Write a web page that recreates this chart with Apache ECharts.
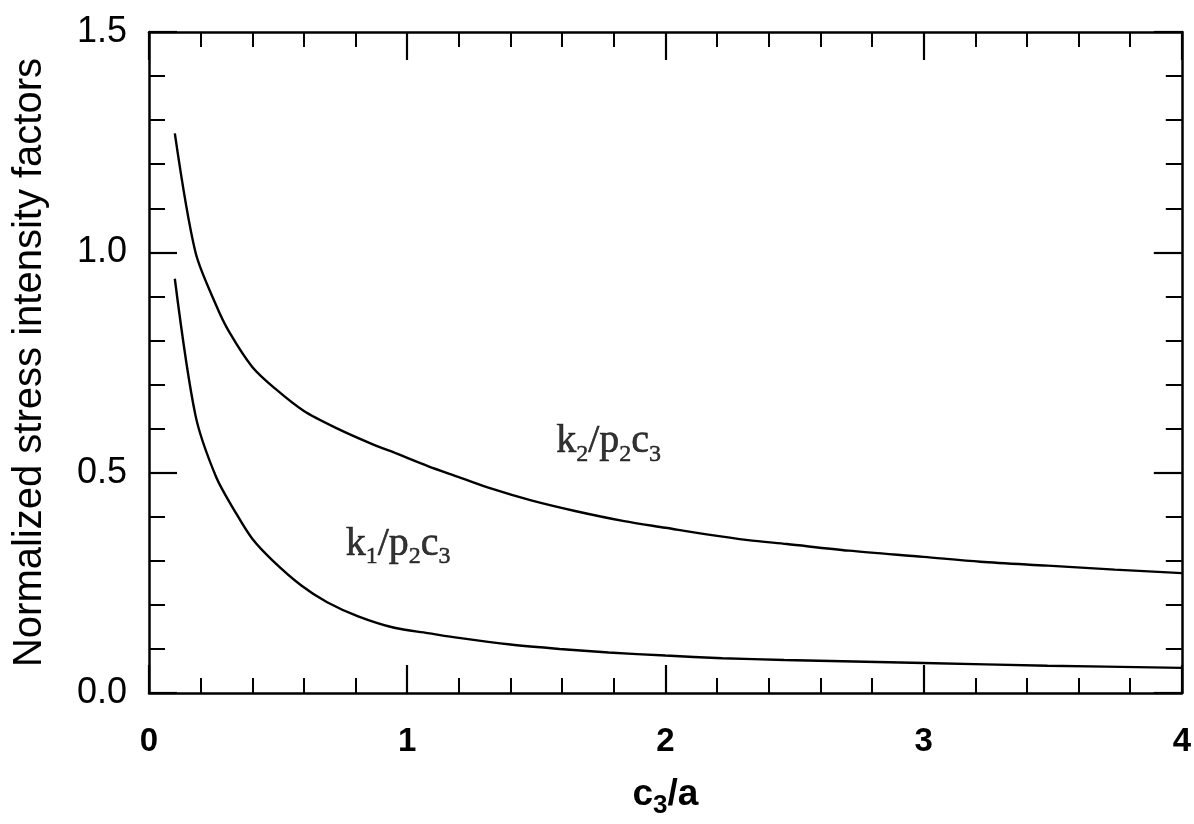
<!DOCTYPE html>
<html>
<head>
<meta charset="utf-8">
<script src="https://cdn.jsdelivr.net/npm/echarts@6/dist/echarts.min.js"></script>
<style>
html,body{margin:0;padding:0;background:#fff;}
#chart{width:1194px;height:824px;}
</style>
</head>
<body>
<div id="chart"></div>
<script>
// x = c3/a, y = normalized stress intensity factor
const k2X = [0.10, 0.18, 0.26, 0.31, 0.40, 0.49, 0.60, 0.73, 0.86, 0.96, 1.08, 1.20, 1.33, 1.48, 1.65, 1.84, 2.00, 2.16, 2.32, 2.47, 2.71, 3.00, 3.22, 3.48, 3.74, 4.00];
const k2Y = [1.27, 1.00, 0.88, 0.82, 0.74, 0.69, 0.64, 0.60, 0.566, 0.543, 0.515, 0.490, 0.463, 0.437, 0.413, 0.390, 0.375, 0.360, 0.347, 0.338, 0.323, 0.309, 0.298, 0.289, 0.280, 0.272];
const k1X = [0.10, 0.18, 0.26, 0.335, 0.40, 0.48, 0.59, 0.69, 0.81, 0.95, 1.08, 1.20, 1.40, 1.59, 1.78, 2.00, 2.22, 2.46, 3.00, 3.48, 4.00];
const k1Y = [0.94, 0.63, 0.49, 0.41, 0.35, 0.30, 0.244, 0.206, 0.174, 0.148, 0.136, 0.125, 0.110, 0.100, 0.092, 0.085, 0.079, 0.075, 0.068, 0.062, 0.057];

const xTickLabels = ['0', '1', '2', '3', '4'];
const yTickLabels = ['0.0', '0.5', '1.0', '1.5'];
const xTitle = 'c{sub|3}/a';
const yTitle = 'Normalized stress intensity factors';

const curveLabels = ['k{s|2}/p{s|2}c{s|3}', 'k{s|1}/p{s|2}c{s|3}'];
const curveLabelPos = [[1.78, 0.57], [0.965, 0.338]];

const zip = (xs, ys) => xs.map((x, i) => [x, ys[i]]);
const sans = 'Liberation Sans, Arial, sans-serif';
const serif = 'Liberation Serif, Times New Roman, serif';

const axisLine = {show: true, onZero: false, lineStyle: {color: '#000', width: 2.5}};
const tickX = {show: true, inside: true, length: 28, lineStyle: {color: '#000', width: 2.2}};
const minorX = {show: true, splitNumber: 5, length: 15, lineStyle: {color: '#000', width: 2}};
const minorY = {show: true, splitNumber: 5, length: 16, lineStyle: {color: '#000', width: 2}};

const chart = echarts.init(document.getElementById('chart'), null, {renderer: 'canvas'});
chart.setOption({
  backgroundColor: '#fff',
  animation: false,
  grid: {left: 149, right: 8, top: 32, bottom: 121, containLabel: false},
  xAxis: [{
    type: 'value', min: 0, max: 4, interval: 1, position: 'bottom',
    name: xTitle, nameLocation: 'middle', nameGap: 78,
    nameTextStyle: {fontFamily: sans, fontSize: 37, fontWeight: 'bold', color: '#000',
      rich: {sub: {fontFamily: sans, fontSize: 26, fontWeight: 'bold', color: '#000', verticalAlign: 'bottom', lineHeight: 48}}},
    axisLine: axisLine, axisTick: tickX, minorTick: minorX,
    splitLine: {show: false}, minorSplitLine: {show: false},
    axisLabel: {margin: 32, fontFamily: sans, fontSize: 33, fontWeight: 'bold', color: '#000',
      formatter: (v) => xTickLabels[Math.round(v)]}
  }, {
    type: 'value', min: 0, max: 4, interval: 1, position: 'top',
    axisLine: axisLine, axisTick: tickX, minorTick: minorX,
    splitLine: {show: false}, axisLabel: {show: false}
  }],
  yAxis: [{
    type: 'value', min: 0, max: 1.5, interval: 0.5, position: 'left',
    name: yTitle, nameLocation: 'middle', nameGap: 99,
    nameTextStyle: {fontFamily: sans, fontSize: 40, color: '#000'},
    axisLine: axisLine, axisTick: tickX, minorTick: minorY,
    splitLine: {show: false}, minorSplitLine: {show: false},
    axisLabel: {margin: 22, fontFamily: sans, fontSize: 36, color: '#000',
      formatter: (v) => yTickLabels[Math.round(v / 0.5)]}
  }, {
    type: 'value', min: 0, max: 1.5, interval: 0.5, position: 'right',
    axisLine: axisLine, axisTick: tickX, minorTick: minorY,
    splitLine: {show: false}, axisLabel: {show: false}
  }],
  series: [{
    name: 'k2/p2c3', type: 'line', data: zip(k2X, k2Y), showSymbol: false,
    smooth: 0.3,
    lineStyle: {color: '#000', width: 2.4}
  }, {
    name: 'k1/p2c3', type: 'line', data: zip(k1X, k1Y), showSymbol: false,
    smooth: 0.3,
    lineStyle: {color: '#000', width: 2.4}
  }, {
    type: 'scatter', symbol: 'circle', symbolSize: 1, itemStyle: {color: 'rgba(0,0,0,0)'},
    silent: true,
    data: curveLabelPos,
    label: {
      show: true, position: 'inside',
      formatter: (p) => curveLabels[p.dataIndex],
      fontFamily: serif, fontSize: 40, color: '#000',
      textBorderColor: '#000', textBorderWidth: 0.6,
      rich: {s: {fontFamily: serif, fontSize: 24, color: '#000', textBorderColor: '#000', textBorderWidth: 0.5, verticalAlign: 'bottom', lineHeight: 50}}
    }
  }]
});
</script>
</body>
</html>
